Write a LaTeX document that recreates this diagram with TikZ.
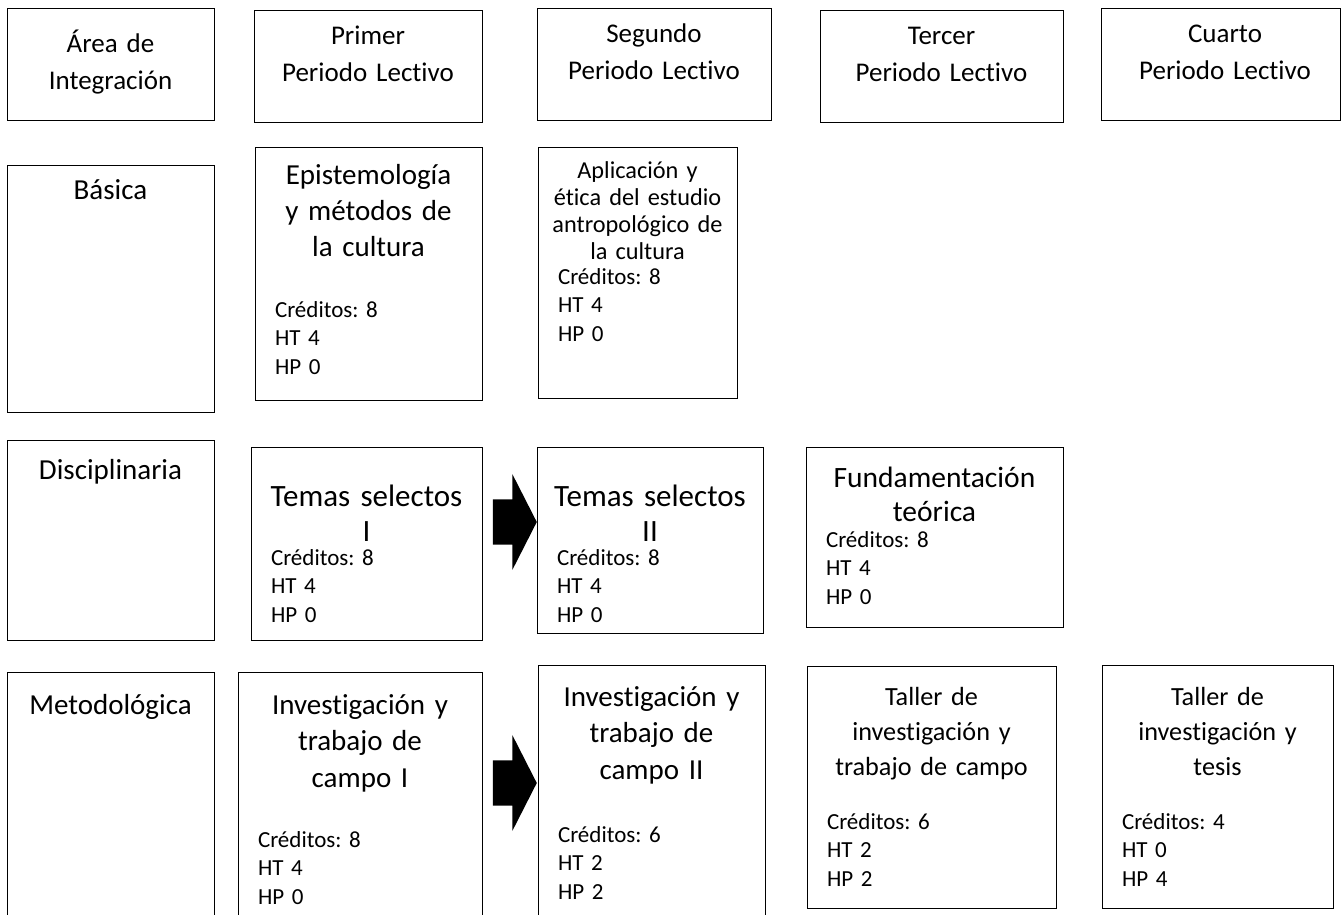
\documentclass[tikz,border=0pt]{standalone}
\usepackage{fontspec}
\setmainfont{Carlito}[Ligatures=NoCommon]
\frenchspacing
\usetikzlibrary{shapes.arrows}

\begin{document}
\begin{tikzpicture}[
  x=1pt, y=-1pt,
  caja/.style={draw, line width=1.1pt, inner sep=0pt, anchor=north west},
  cabeza/.style={font=\fontsize{27}{37}\selectfont, align=center, text width=200pt, inner sep=0pt, anchor=base},
  etiq/.style={font=\fontsize{29}{35}\selectfont, inner sep=0pt, anchor=base},
  titulo/.style={align=center, text width=#1, inner sep=0pt, anchor=base},
  creditos/.style={font=\fontsize{23}{28.5}\selectfont, align=left, text width=#1, inner sep=0pt, anchor=base},
  flecha/.style={single arrow, fill=black, inner xsep=0pt, inner ysep=22.5pt, single arrow head extend=25pt, single arrow tip angle=126, minimum height=44pt, anchor=tip}
]
\useasboundingbox (0,0) rectangle (1342,914);

% Encabezados
\node[caja, minimum width=207pt, minimum height=112pt] (area) at (7,8) {};
\node[cabeza] (areaT) at (110.5,52) {Área de\\Integración};
\node[caja, minimum width=228pt, minimum height=112pt] (primero) at (254,10) {};
\node[cabeza] (primeroT) at (368,44) {Primer\\Periodo Lectivo};
\node[caja, minimum width=234pt, minimum height=112pt] (segundo) at (537,8) {};
\node[cabeza] (segundoT) at (654,42) {Segundo\\Periodo Lectivo};
\node[caja, minimum width=243pt, minimum height=112pt] (tercero) at (820,10) {};
\node[cabeza] (terceroT) at (941.5,44) {Tercer\\Periodo Lectivo};
\node[caja, minimum width=239pt, minimum height=112pt] (cuarto) at (1101,8) {};
\node[cabeza] (cuartoT) at (1225,42) {Cuarto\\Periodo Lectivo};

% Areas de integracion
\node[caja, minimum width=207pt, minimum height=247pt] (basica) at (7,165) {};
\node[etiq] (basicaT) at (110.5,199) {Básica};
\node[caja, minimum width=207pt, minimum height=200pt] (discip) at (7,440) {};
\node[etiq] (discipT) at (110.5,479) {Disciplinaria};
\node[caja, minimum width=207pt, minimum height=260pt] (metodo) at (7,672) {};
\node[etiq] (metodoT) at (110.5,714) {Metodológica};

% Basica
\node[caja, minimum width=227pt, minimum height=253pt] (epist) at (255,147) {};
\node[titulo=217pt, font=\fontsize{29}{36}\selectfont] (epistT) at (368.5,184) {Epistemología\\y métodos de\\la cultura};
\node[creditos=187pt] (epistC) at (368.5,317) {Créditos: 8\\HT 4\\HP 0};
\node[caja, minimum width=199pt, minimum height=251pt] (aplic) at (538,147) {};
\node[titulo=189pt, font=\fontsize{24.3}{27}\selectfont] (aplicT) at (637.5,178) {Aplicación y\\ética del estudio\\antropológico de\\la cultura};
\node[creditos=159pt] (aplicC) at (637.5,284) {Créditos: 8\\HT 4\\HP 0};

% Disciplinaria
\node[caja, minimum width=231pt, minimum height=193pt] (temasA) at (251,447) {};
\node[titulo=221pt, font=\fontsize{31}{35}\selectfont] (temasAT) at (366.5,506) {Temas selectos\\I};
\node[creditos=191pt] (temasAC) at (366.5,565) {Créditos: 8\\HT 4\\HP 0};
\node[caja, minimum width=226pt, minimum height=186pt] (temasB) at (537,447) {};
\node[titulo=216pt, font=\fontsize{31}{35}\selectfont] (temasBT) at (650,506) {Temas selectos\\II};
\node[creditos=186pt] (temasBC) at (650,565) {Créditos: 8\\HT 4\\HP 0};
\node[flecha] (flechaT) at (537,522) {};
\node[caja, minimum width=257pt, minimum height=180pt] (fundam) at (806,447) {};
\node[titulo=247pt, font=\fontsize{29.5}{34}\selectfont] (fundamT) at (934.5,487) {Fundamentación\\teórica};
\node[creditos=217pt] (fundamC) at (934.5,547) {Créditos: 8\\HT 4\\HP 0};

% Metodologica
\node[caja, minimum width=244pt, minimum height=260pt] (invA) at (238,672) {};
\node[titulo=234pt, font=\fontsize{29}{36.5}\selectfont] (invAT) at (360,714) {Investigación y\\trabajo de\\campo I};
\node[creditos=204pt] (invAC) at (360,847) {Créditos: 8\\HT 4\\HP 0};
\node[caja, minimum width=227pt, minimum height=267pt] (invB) at (538,665) {};
\node[titulo=217pt, font=\fontsize{29}{36.5}\selectfont] (invBT) at (651.5,706) {Investigación y\\trabajo de\\campo II};
\node[creditos=187pt] (invBC) at (651.5,842) {Créditos: 6\\HT 2\\HP 2};
\node[flecha] (flechaI) at (537,783) {};
\node[caja, minimum width=249pt, minimum height=242pt] (tallerA) at (807,666) {};
\node[titulo=239pt, font=\fontsize{26.2}{35}\selectfont] (tallerAT) at (931.5,705) {Taller de\\investigación y\\trabajo de campo};
\node[creditos=209pt] (tallerAC) at (931.5,829) {Créditos: 6\\HT 2\\HP 2};
\node[caja, minimum width=231pt, minimum height=243pt] (tallerB) at (1102,665) {};
\node[titulo=221pt, font=\fontsize{26.2}{35}\selectfont] (tallerBT) at (1217.5,705) {Taller de\\investigación y\\tesis};
\node[creditos=191pt] (tallerBC) at (1217.5,829) {Créditos: 4\\HT 0\\HP 4};

\end{tikzpicture}
\end{document}
